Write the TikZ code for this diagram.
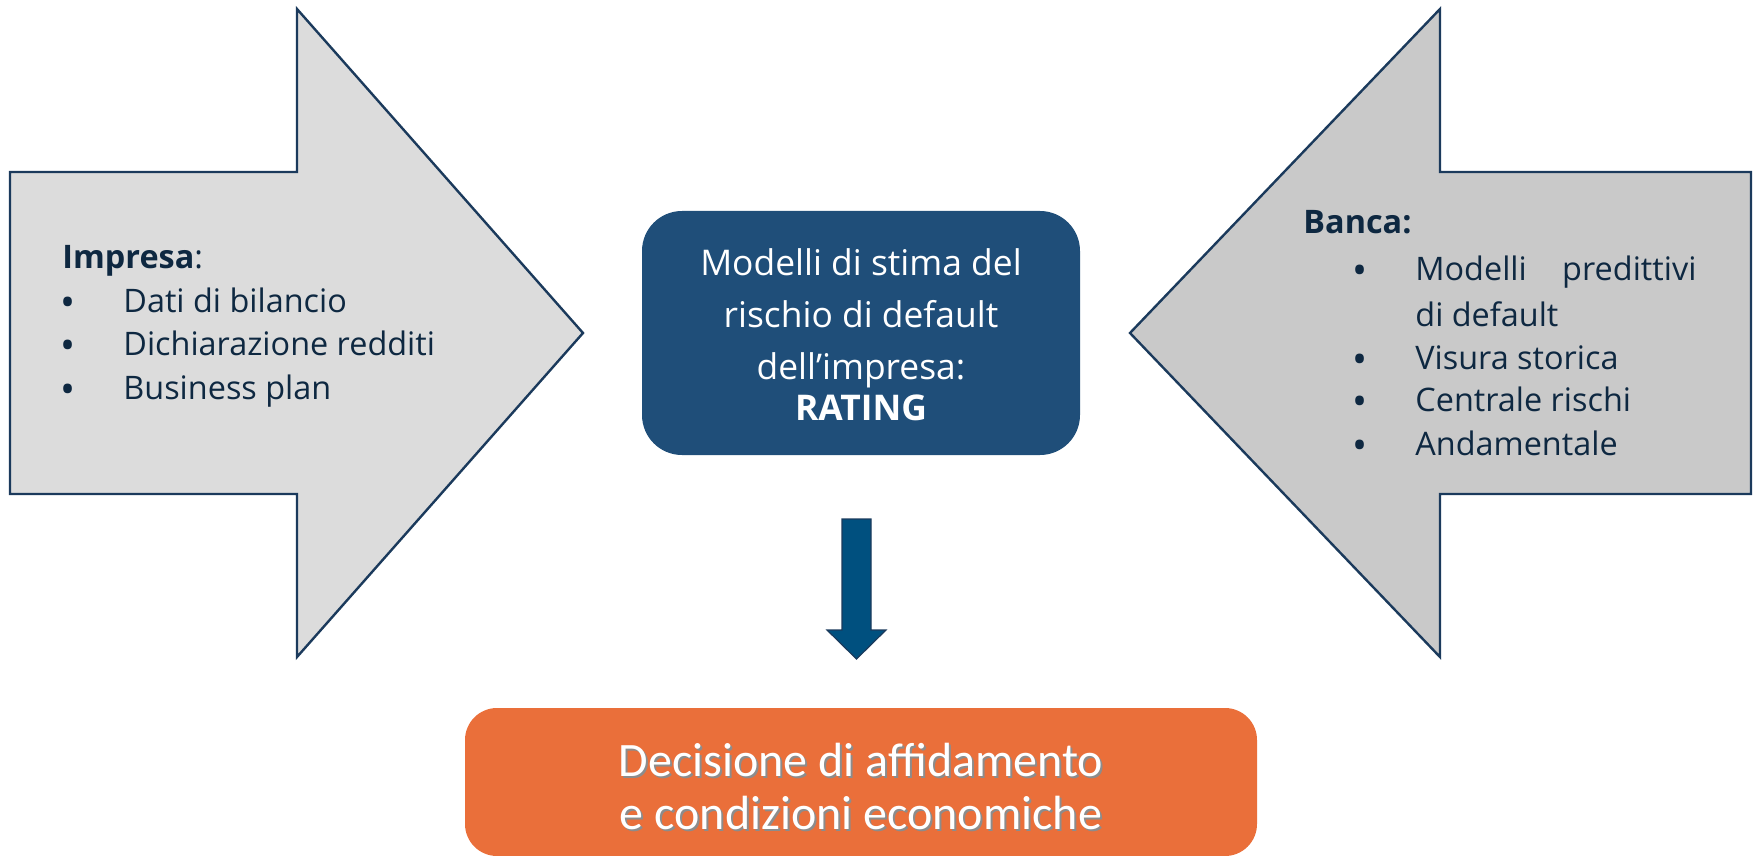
\documentclass[tikz,border=0pt]{standalone}
\usepackage{fontspec}
\setmainfont{Open Sans}
\newfontfamily\calib{Carlito}
\definecolor{navy}{HTML}{0E2841}
\definecolor{edgeblue}{HTML}{1B3A5C}
\definecolor{lgray}{HTML}{DCDCDC}
\definecolor{mgray}{HTML}{C9C9C9}
\definecolor{boxblue}{HTML}{1F4E79}
\definecolor{arrblue}{HTML}{00507F}
\definecolor{orange}{HTML}{EA6F3A}
\begin{document}
\begin{tikzpicture}[x=0.5pt,y=-0.5pt,
  bigarrow/.style={draw=edgeblue,line width=1.2pt,line join=miter},
  lbl/.style={anchor=west,inner sep=0pt,text=navy,font=\fontsize{16.2}{22}\selectfont,text height=0.7em,text depth=0.2em},
  bul/.style={anchor=center,inner sep=0pt,text=navy,font=\fontsize{20}{22}\selectfont},
  ctext/.style={anchor=center,inner sep=0pt,text=white,font=\fontsize{17.7}{25.5}\selectfont,text height=0.7em,text depth=0.2em}]
\useasboundingbox (0,0) rectangle (1758,856);
% left arrow
\path[bigarrow,fill=lgray] (10,172) -- (297,172) -- (297,9) -- (583,333) -- (297,657) -- (297,494) -- (10,494) -- cycle;
% right arrow
\path[bigarrow,fill=mgray] (1751,172) -- (1440,172) -- (1440,9) -- (1130,333) -- (1440,657) -- (1440,494) -- (1751,494) -- cycle;
% centre box
\node[fill=boxblue,rounded corners=20pt,minimum width=219pt,minimum height=122pt,inner sep=0pt] (rating) at (861,333) {};
\node[ctext] (r1) at (861,271) {Modelli di stima del};
\node[ctext] (r2) at (861,322) {rischio di default};
\node[ctext] (r3) at (861,374) {dell’impresa:};
\node[ctext] (r4) at (861,415) {\textbf{RATING}};
% down arrow
\path[fill=arrblue,draw=edgeblue,line width=0.6pt] (842,519) -- (871,519) -- (871,630) -- (886,630) -- (856.5,659) -- (827,630) -- (842,630) -- cycle;
\coordinate (arrtop) at (856.5,519);
% orange box
\node[fill=orange,rounded corners=16pt,minimum width=396pt,minimum height=74pt,inner sep=0pt] (decision) at (861,782) {};
\node[align=center,inner sep=0pt,text=black!45,font=\calib\fontsize{24}{26.5}\selectfont] (decshadow) at (863,788) {Decisione di affidamento\\e condizioni economiche};
\node[align=center,inner sep=0pt,text=white,font=\calib\fontsize{24}{26.5}\selectfont] (dectxt) at (861,786) {Decisione di affidamento\\e condizioni economiche};
% left text
\node[lbl] (imp) at (62,263) {\textbf{Impresa}:};
\node[bul] (b1) at (68,307) {•};
\node[lbl] (i1) at (123,307) {Dati di bilancio};
\node[bul] (b2) at (68,350) {•};
\node[lbl] (i2) at (123,350) {Dichiarazione redditi};
\node[bul] (b3) at (68,394) {•};
\node[lbl] (i3) at (123,394) {Business plan};
% right text
\node[lbl] (banca) at (1303,229) {\textbf{Banca:}};
\node[bul] (c1) at (1360,275) {•};
\node[lbl,text width=140.5pt,text height=0.7em] (j1) at (1415,275) {Modelli\hfill predittivi};
\node[lbl] (j1b) at (1415,321) {di default};
\node[bul] (c2) at (1360,364) {•};
\node[lbl] (j2) at (1415,364) {Visura storica};
\node[bul] (c3) at (1360,406) {•};
\node[lbl] (j3) at (1415,406) {Centrale rischi};
\node[bul] (c4) at (1360,450) {•};
\node[lbl] (j4) at (1415,450) {Andamentale};
\end{tikzpicture}
\end{document}
